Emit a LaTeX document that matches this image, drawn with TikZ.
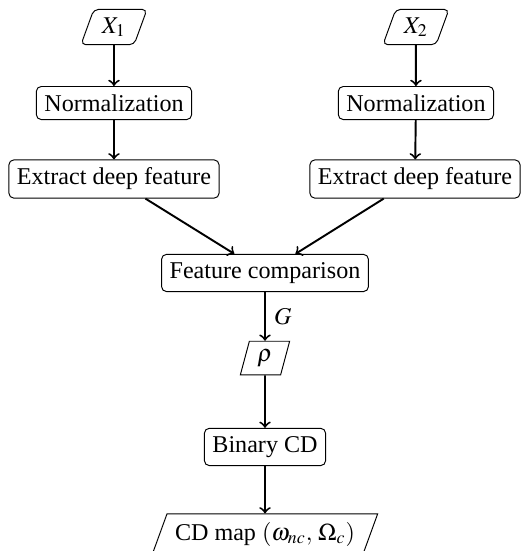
\documentclass[tikz,border=0pt]{standalone}
\usepackage{mathptmx}
\usepackage{fontspec}
\setmainfont{Liberation Serif}
\usetikzlibrary{shapes.geometric}

\begin{document}
\begin{tikzpicture}
        \tikzstyle{block}=[draw, rounded corners=2pt, inner sep=3.33pt]
        \tikzstyle{io}=[draw, trapezium, trapezium left angle=70, trapezium right angle=110, trapezium stretches=true, inner sep=3.33pt]
        \tikzstyle{arr}=[->, thick]

        \useasboundingbox (0,0) rectangle (7.611,-8.034);

        % Left branch
        \node[io, rounded corners=2pt] (x1) at (1.662,-0.394) {$X_1$};
        \node[block] (norm1) at (1.662,-1.502) {Normalization};
        \node[block] (ext1) at (1.662,-2.610) {Extract deep feature};

        % Right branch
        \node[io, rounded corners=2pt] (x2) at (6.065,-0.394) {$X_2$};
        \node[block] (norm2) at (6.065,-1.502) {Normalization};
        \node[block] (ext2) at (6.051,-2.610) {Extract deep feature};

        % Common part
        \node[block] (comp) at (3.864,-3.980) {Feature comparison};
        \node[io, trapezium left angle=75, trapezium right angle=105] (rho) at (3.864,-5.220) {$\rho$};
        \node[block] (bin) at (3.864,-6.517) {Binary CD};
        \node[io] (map) at (3.864,-7.786) {CD map $(\omega_{nc},\,\Omega_c)$};

        \draw[arr] (x1) -- (norm1);
        \draw[arr] (norm1) -- (ext1);
        \draw[arr] (x2) -- (norm2);
        \draw[arr] (norm2) -- (ext2);
        \draw[arr] (ext1) -- (comp);
        \draw[arr] (ext2) -- (comp);
        \draw[arr] (comp) -- node[right] {$G$} (rho);
        \draw[arr] (rho) -- (bin);
        \draw[arr] (bin) -- (map);
    \end{tikzpicture}
\end{document}
